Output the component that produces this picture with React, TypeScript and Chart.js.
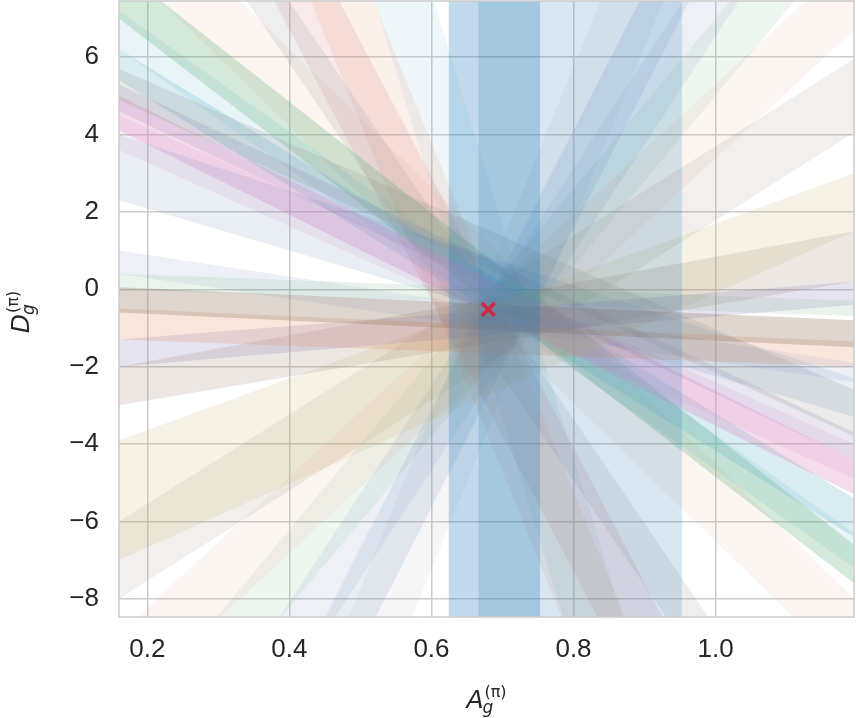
import React, { useEffect, useRef } from 'react';
import { Chart, registerables } from 'chart.js';

Chart.register(...registerables);

// ---- axis settings ----
const xLimits = [0.16, 1.195];
const yLimits = [-8.47, 7.45];
const xTickValues = [0.2, 0.4, 0.6, 0.8, 1.0];
const xTickLabels = ['0.2', '0.4', '0.6', '0.8', '1.0'];
const yTickValues = [-8, -6, -4, -2, 0, 2, 4, 6];
const yTickLabels = ['−8', '−6', '−4', '−2', '0', '2', '4', '6'];

// seaborn "deep" palette (rgb)
const palette = [
  '76,114,176', '221,132,82', '85,168,104', '196,78,82', '129,114,179',
  '147,120,96', '218,139,195', '140,140,140', '204,185,116', '100,181,205',
];

// ---- constraint bands: edges at the left (A = 0.16) and right (A = 1.195) limits ----
const bandLeftLow = [-0.6, -1.3, 0.0, -2.0, -3.0, -7.0, 0.4, 2.3, 4.9, 4.1, 3.6, 4.6, 5.4, 7.0, 6.2, 12.3, 19.6, 15.1, -21.5, -10.9, -13.5, -8.0, -17.0, -27.0, 29.0, 8.5];
const bandLeftHigh = [0.05, -0.5, 0.4, -1.3, -2.0, -3.9, 1.0, 4.0, 5.7, 5.0, 4.5, 5.3, 6.2, 8.3, 7.2, 13.9, 23.6, 18.3, -18.9, -8.9, -11.5, -6.0, -14.8, -23.0, 34.0, 10.5];
const bandRightLow = [-1.5, -2.0, -0.7, -0.4, 0.2, 1.5, -2.4, -3.3, -3.8, -5.3, -4.9, -4.4, -6.4, -7.6, -7.2, -15.6, -27.0, -21.1, 15.8, 6.7, 9.3, 4.05, 12.0, 19.5, -33.0, -10.0];
const bandRightHigh = [-0.8, -1.35, -0.3, 0.2, 1.5, 3.0, -1.9, -2.3, -2.6, -4.4, -4.0, -3.7, -5.4, -6.6, -6.3, -14.0, -23.0, -17.9, 18.3, 8.6, 11.3, 5.95, 14.2, 23.5, -28.0, -8.0];
const bandColour = [5, 1, 2, 4, 5, 8, 0, 0, 7, 6, 6, 4, 9, 2, 9, 7, 1, 3, 0, 1, 2, 5, 0, 7, 9, 1];
const bandAlpha = [0.3, 0.2, 0.12, 0.2, 0.18, 0.18, 0.1, 0.12, 0.18, 0.3, 0.15, 0.18, 0.25, 0.25, 0.15, 0.15, 0.12, 0.12, 0.12, 0.08, 0.1, 0.12, 0.1, 0.08, 0.1, 0.08];

// ---- vertical spans on A ----
const spanStart = [0.624, 0.666];
const spanEnd = [0.753, 0.953];
const spanAlpha = [0.27, 0.18];
const spanColour = '31,119,180';

// ---- best estimate ----
const markerA = [0.68];
const markerD = [-0.52];

// axis titles
const xTitle = { base: 'A', sub: 'g', sup: '(π)' };
const yTitle = { base: 'D', sub: 'g', sup: '(π)' };

function drawMath(ctx: CanvasRenderingContext2D, t: { base: string; sub: string; sup: string }, cx: number, cy: number, rotate: boolean) {
  const baseFont = 'italic 25px "DejaVu Sans"';
  const subFont = 'italic 17px "DejaVu Sans"';
  const supFont = '16px "DejaVu Sans"';
  ctx.save();
  ctx.font = baseFont;
  const wB = ctx.measureText(t.base).width;
  ctx.font = subFont;
  const wSub = ctx.measureText(t.sub).width;
  ctx.font = supFont;
  const wSup = ctx.measureText(t.sup).width;
  const total = wB + Math.max(wSub, wSup + 1);
  ctx.translate(cx, cy);
  if (rotate) ctx.rotate(-Math.PI / 2);
  ctx.fillStyle = '#262626';
  ctx.textBaseline = 'alphabetic';
  ctx.textAlign = 'left';
  const x0 = -total / 2;
  ctx.font = baseFont;
  ctx.fillText(t.base, x0, 0);
  ctx.font = subFont;
  ctx.fillText(t.sub, x0 + wB - 1, 5);
  ctx.font = supFont;
  ctx.fillText(t.sup, x0 + wB + 1, -11);
  ctx.restore();
}

const framePlugin = {
  id: 'frameAndTitles',
  afterDatasetsDraw(chart: any) {
    const { ctx, chartArea } = chart;
    ctx.save();
    ctx.strokeStyle = '#cccccc';
    ctx.lineWidth = 1.5;
    ctx.strokeRect(chartArea.left, chartArea.top, chartArea.right - chartArea.left, chartArea.bottom - chartArea.top);
    ctx.restore();
  },
  afterDraw(chart: any) {
    const { ctx, chartArea } = chart;
    const cx = (chartArea.left + chartArea.right) / 2;
    const cy = (chartArea.top + chartArea.bottom) / 2;
    drawMath(ctx, xTitle, cx, 708, false);
    drawMath(ctx, yTitle, 29, cy + 3, true);
  },
};

export default function App() {
  const ref = useRef<HTMLCanvasElement | null>(null);

  useEffect(() => {
    if (!ref.current) return;
    const datasets: any[] = [];

    datasets.push({
      type: 'line',
      data: markerA.map((a, i) => ({ x: a, y: markerD[i] })),
      showLine: false,
      pointStyle: 'crossRot',
      pointRadius: 9,
      pointBorderWidth: 3.5,
      pointBorderColor: '#d1283f',
      pointBackgroundColor: '#d1283f',
      order: 0,
    });

    spanStart.forEach((s, i) => {
      datasets.push({
        type: 'line',
        data: [{ x: s, y: yLimits[0] - 2 }, { x: spanEnd[i], y: yLimits[0] - 2 }],
        showLine: false, pointRadius: 0, fill: false, order: 1,
      });
      datasets.push({
        type: 'line',
        data: [{ x: s, y: yLimits[1] + 2 }, { x: spanEnd[i], y: yLimits[1] + 2 }],
        showLine: false, pointRadius: 0, fill: '-1', order: 1,
        backgroundColor: `rgba(${spanColour},${spanAlpha[i]})`,
      });
    });

    bandLeftLow.forEach((lo, i) => {
      datasets.push({
        type: 'line',
        data: [{ x: xLimits[0], y: lo }, { x: xLimits[1], y: bandRightLow[i] }],
        showLine: false, pointRadius: 0, fill: false, order: 2,
      });
      datasets.push({
        type: 'line',
        data: [{ x: xLimits[0], y: bandLeftHigh[i] }, { x: xLimits[1], y: bandRightHigh[i] }],
        showLine: false, pointRadius: 0, fill: '-1', order: 2,
        backgroundColor: `rgba(${palette[bandColour[i]]},${bandAlpha[i]})`,
      });
    });

    const tickFont = { family: '"Liberation Sans", Arial, sans-serif', size: 26 };

    const chart = new Chart(ref.current, {
      type: 'line',
      data: { datasets },
      options: {
        animation: false,
        responsive: false,
        events: [],
        layout: { autoPadding: false, padding: { left: 0, right: 2, top: 1, bottom: 0 } },
        plugins: { legend: { display: false }, tooltip: { enabled: false } },
        scales: {
          x: {
            type: 'linear',
            min: xLimits[0],
            max: xLimits[1],
            afterBuildTicks: (s: any) => { s.ticks = xTickValues.map((v) => ({ value: v })); },
            afterFit: (s: any) => {
              s.height = 101;
              s.paddingLeft = 0; s.paddingRight = 0; s.paddingTop = 0; s.paddingBottom = 0;
            },
            ticks: {
              callback: (_v: any, idx: number) => xTickLabels[idx],
              font: tickFont, color: '#262626', padding: 17, maxRotation: 0, autoSkip: false,
            },
            grid: { color: '#cccccc', lineWidth: 1.5, drawTicks: false },
            border: { display: false },
          },
          y: {
            type: 'linear',
            min: yLimits[0],
            max: yLimits[1],
            afterBuildTicks: (s: any) => { s.ticks = yTickValues.map((v) => ({ value: v })); },
            afterFit: (s: any) => {
              s.width = 119;
              s.paddingLeft = 0; s.paddingRight = 0; s.paddingTop = 0; s.paddingBottom = 0;
            },
            ticks: {
              callback: (_v: any, idx: number) => yTickLabels[idx],
              font: tickFont, color: '#262626', padding: 20, autoSkip: false,
            },
            grid: { color: '#cccccc', lineWidth: 1.5, drawTicks: false },
            border: { display: false },
          },
        },
      } as any,
      plugins: [framePlugin],
    });
    return () => chart.destroy();
  }, []);

  return (
    <div style={{ position: 'fixed', left: 0, top: 0, width: 856, height: 718, background: '#ffffff' }}>
      <canvas ref={ref} width={856} height={718} style={{ width: 856, height: 718, display: 'block' }} />
    </div>
  );
}
